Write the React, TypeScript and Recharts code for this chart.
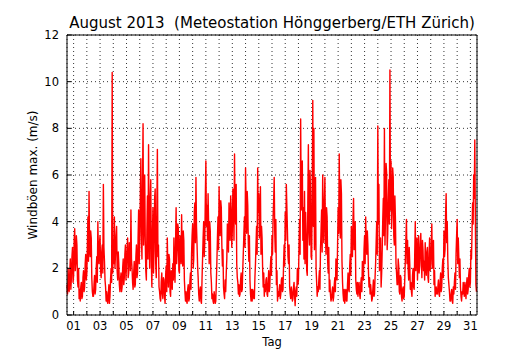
import React from "react";
import { LineChart, Line, XAxis, YAxis, CartesianGrid } from "recharts";

// max gust (m/s), Aug 1..31 2013, one row per day
// even hours: 00, 02, ... 22
const gustsEvenHours: number[][] = [
  [1.3, 2.0, 1.0, 2.4, 1.6, 2.9, 1.7, 3.7, 2.2, 3.0, 1.2, 0.7],
  [0.6, 1.4, 0.8, 1.9, 1.2, 2.6, 1.8, 4.2, 5.3, 2.5, 3.3, 1.0],
  [0.8, 1.7, 1.1, 2.5, 4.0, 2.2, 3.4, 1.6, 3.0, 5.6, 2.3, 1.2],
  [1.0, 0.5, 1.3, 0.8, 2.0, 10.4, 3.2, 4.2, 2.6, 3.8, 1.5, 2.2],
  [1.0, 1.8, 1.2, 2.4, 1.6, 3.0, 2.2, 3.3, 1.8, 2.7, 4.5, 2.0],
  [1.1, 2.3, 1.3, 3.0, 1.8, 4.5, 3.1, 6.7, 2.4, 8.2, 4.0, 3.2],
  [1.5, 5.1, 7.3, 2.0, 5.8, 1.2, 4.6, 2.8, 5.4, 1.6, 7.1, 3.0],
  [1.0, 0.6, 1.8, 0.7, 1.5, 0.5, 2.1, 3.3, 1.2, 2.4, 0.8, 1.6],
  [2.2, 3.3, 1.4, 4.6, 2.8, 3.7, 1.8, 3.0, 4.3, 2.1, 3.2, 1.0],
  [1.0, 0.5, 1.3, 0.7, 1.8, 2.6, 3.9, 2.4, 4.8, 5.9, 3.0, 1.6],
  [0.6, 1.2, 0.5, 2.4, 4.0, 3.1, 6.6, 4.7, 5.2, 2.2, 3.6, 1.4],
  [0.9, 0.5, 0.8, 0.6, 2.3, 4.2, 5.5, 3.4, 4.6, 2.1, 1.2, 0.7],
  [1.0, 2.4, 3.6, 4.8, 3.2, 4.5, 3.6, 5.0, 6.9, 3.9, 2.2, 1.4],
  [1.3, 0.9, 1.8, 1.1, 2.7, 4.2, 6.3, 3.5, 4.7, 2.3, 1.5, 0.6],
  [0.6, 1.0, 0.7, 2.2, 3.8, 6.3, 5.2, 4.0, 2.6, 3.3, 1.2, 0.8],
  [1.0, 1.6, 0.8, 1.9, 1.2, 2.5, 3.4, 4.2, 5.9, 2.7, 1.3, 0.6],
  [0.8, 1.3, 0.9, 1.6, 1.1, 3.0, 4.4, 5.6, 3.6, 2.2, 1.2, 0.7],
  [1.0, 0.7, 1.4, 0.4, 1.2, 2.0, 1.5, 4.1, 8.4, 5.6, 3.2, 2.4],
  [2.2, 3.5, 1.7, 7.3, 3.0, 5.1, 2.4, 9.2, 8.0, 4.1, 2.0, 0.8],
  [1.0, 1.9, 2.8, 4.5, 6.0, 3.1, 5.9, 2.6, 4.2, 1.8, 1.0, 0.9],
  [0.7, 1.2, 0.8, 1.6, 2.4, 1.5, 4.6, 6.9, 3.3, 5.2, 1.4, 0.6],
  [0.5, 1.1, 0.6, 1.8, 1.0, 2.6, 3.8, 2.5, 5.0, 3.1, 1.5, 0.9],
  [0.8, 1.4, 0.7, 1.6, 2.3, 1.5, 3.4, 4.2, 2.6, 3.0, 1.2, 0.9],
  [1.0, 0.7, 1.5, 0.9, 2.2, 4.0, 8.1, 5.6, 2.4, 1.2, 2.8, 5.0],
  [8.0, 4.2, 6.1, 3.5, 5.8, 10.5, 6.6, 4.4, 5.9, 3.0, 4.1, 1.8],
  [1.3, 2.1, 0.9, 1.6, 0.6, 1.2, 0.8, 2.4, 4.1, 3.2, 1.5, 2.2],
  [1.4, 0.8, 2.0, 1.1, 4.0, 2.6, 1.5, 3.4, 2.1, 3.5, 1.6, 2.8],
  [2.3, 3.1, 1.7, 2.9, 1.4, 3.3, 2.2, 3.9, 2.5, 1.3, 0.8, 1.2],
  [0.9, 1.5, 0.8, 1.8, 1.2, 2.4, 3.6, 2.8, 5.2, 4.0, 1.6, 1.0],
  [0.6, 1.1, 0.5, 0.9, 1.8, 2.6, 4.1, 3.3, 1.6, 1.2, 0.6, 0.9],
  [1.0, 1.4, 0.7, 1.6, 1.1, 2.0, 1.4, 2.4, 4.8, 6.0, 7.5, 1.3],
];

// odd hours: 01, 03, ... 23
const gustsOddHours: number[][] = [
  [0.9, 1.2, 1.8, 1.1, 2.5, 1.4, 3.2, 1.9, 3.4, 1.5, 2.0, 1.1],
  [1.2, 0.7, 1.6, 1.0, 2.2, 1.5, 3.0, 2.3, 2.8, 3.6, 1.6, 0.8],
  [1.3, 0.9, 2.0, 1.4, 2.6, 3.1, 1.9, 2.7, 1.8, 2.9, 1.5, 0.6],
  [0.6, 0.9, 0.5, 1.5, 1.4, 1.8, 2.2, 2.0, 3.4, 1.9, 2.7, 1.3],
  [1.5, 1.0, 2.0, 1.3, 2.6, 1.5, 2.8, 1.6, 3.1, 1.9, 2.4, 1.4],
  [1.8, 1.2, 2.5, 1.6, 3.3, 2.2, 5.0, 3.5, 5.5, 3.0, 6.0, 1.9],
  [3.6, 2.4, 3.8, 4.9, 2.3, 3.5, 1.8, 5.0, 2.2, 4.4, 2.5, 1.2],
  [0.7, 1.4, 0.9, 1.6, 0.8, 1.7, 1.0, 1.9, 2.6, 1.0, 1.9, 1.1],
  [1.5, 2.0, 3.1, 2.2, 3.9, 1.9, 3.4, 2.2, 2.6, 3.6, 1.5, 0.6],
  [0.6, 1.1, 0.6, 1.4, 1.1, 3.4, 2.0, 4.4, 3.1, 3.8, 2.1, 0.9],
  [1.0, 0.6, 1.5, 3.3, 2.5, 5.0, 3.8, 3.2, 3.9, 4.0, 1.8, 0.7],
  [0.6, 1.0, 0.5, 1.4, 3.3, 2.8, 3.9, 4.9, 3.0, 2.8, 0.9, 1.5],
  [1.8, 3.9, 2.7, 3.5, 5.1, 2.9, 5.4, 3.2, 4.3, 5.6, 1.6, 0.9],
  [0.8, 1.5, 1.0, 2.0, 3.5, 2.9, 4.8, 5.3, 3.1, 3.4, 0.9, 1.1],
  [1.1, 0.7, 1.6, 3.0, 2.6, 4.4, 3.3, 5.5, 3.8, 2.0, 1.8, 1.3],
  [1.5, 0.9, 1.4, 1.0, 2.0, 1.7, 2.6, 4.9, 3.5, 4.1, 1.9, 1.0],
  [1.1, 0.7, 1.5, 1.0, 2.2, 2.1, 3.2, 4.6, 2.5, 3.0, 0.9, 1.2],
  [0.6, 1.2, 0.8, 1.0, 0.8, 1.3, 2.9, 2.6, 4.5, 6.6, 4.6, 5.3],
  [4.4, 1.9, 4.8, 3.6, 6.2, 2.5, 5.6, 3.8, 2.8, 5.9, 1.4, 1.2],
  [1.5, 1.1, 3.6, 2.7, 4.1, 4.8, 3.4, 4.6, 2.3, 2.9, 1.5, 0.6],
  [1.0, 0.6, 1.3, 1.0, 1.8, 3.0, 3.5, 4.2, 5.8, 2.3, 0.9, 1.1],
  [0.9, 0.6, 1.3, 1.1, 2.1, 1.7, 3.0, 4.1, 2.8, 4.0, 1.1, 1.4],
  [1.2, 0.9, 1.3, 1.0, 1.6, 2.8, 2.2, 3.0, 3.6, 1.9, 1.6, 1.3],
  [0.6, 1.1, 0.8, 1.6, 3.1, 2.6, 3.9, 1.9, 3.3, 1.8, 4.1, 3.4],
  [3.0, 6.5, 2.8, 4.9, 3.9, 4.5, 3.7, 6.3, 3.4, 5.1, 2.2, 1.3],
  [2.4, 1.0, 1.7, 0.8, 1.1, 0.7, 1.6, 3.3, 2.2, 2.0, 2.9, 1.1],
  [1.0, 1.7, 1.2, 2.6, 1.9, 3.3, 2.4, 1.8, 3.0, 2.3, 3.2, 1.9],
  [1.5, 2.2, 2.7, 1.6, 2.6, 1.9, 3.0, 2.0, 3.2, 1.9, 1.1, 0.9],
  [1.2, 0.9, 1.4, 1.0, 2.0, 1.6, 2.5, 4.3, 3.1, 2.4, 1.3, 0.6],
  [0.9, 0.6, 1.2, 1.4, 1.1, 3.4, 2.2, 2.5, 2.4, 0.8, 1.0, 1.4],
  [0.8, 1.1, 1.3, 0.9, 1.7, 1.2, 2.8, 3.6, 3.9, 5.0, 4.2, 1.0],
];

const dayLabels = [
  "01", "02", "03", "04", "05", "06", "07", "08", "09", "10", "11",
  "12", "13", "14", "15", "16", "17", "18", "19", "20", "21", "22",
  "23", "24", "25", "26", "27", "28", "29", "30", "31",
];
const yTicks = [0, 2, 4, 6, 8, 10, 12];

// x = days since Aug 1 00:00, ticks at noon of each day
const data = gustsEvenHours.flatMap((row, d) =>
  row.flatMap((v, i) => [
    { t: d + (i * 2) / 24, gust: v },
    { t: d + (i * 2 + 1) / 24, gust: gustsOddHours[d][i] },
  ])
);
const dayTicks = dayLabels.map((_, i) => i + 0.5);
const fmtDay = (v: number) => {
  const i = Math.round(v - 0.5);
  return i % 2 === 0 ? dayLabels[i] : "";
};

const font = "DejaVu Sans, sans-serif";
const tickStyle = { fontSize: 11.5, fill: "#000", fontFamily: font };

export default function App() {
  return (
    <div style={{ position: "absolute", left: 0, top: 0, width: 530, height: 350, background: "#fff" }}>
      <LineChart
        width={530}
        height={350}
        data={data}
        margin={{ top: 34, right: 52, left: 0, bottom: 0 }}
      >
        <CartesianGrid stroke="#000" strokeDasharray="1 3" strokeWidth={0.8} />
        <XAxis
          dataKey="t"
          type="number"
          domain={[0, 31]}
          ticks={dayTicks}
          tickFormatter={fmtDay}
          interval={0}
          height={35}
          tickSize={-4}
          tickMargin={11}
          tick={tickStyle}
          axisLine={{ stroke: "#000" }}
          tickLine={{ stroke: "#000" }}
        />
        <XAxis
          xAxisId="top"
          orientation="top"
          dataKey="t"
          type="number"
          domain={[0, 31]}
          ticks={dayTicks}
          tick={false}
          height={1}
          tickSize={-4}
          axisLine={{ stroke: "#000" }}
          tickLine={{ stroke: "#000" }}
        />
        <YAxis
          type="number"
          domain={[0, 12]}
          ticks={yTicks}
          interval={0}
          width={67}
          tickSize={-4}
          tickMargin={12}
          tick={tickStyle}
          axisLine={{ stroke: "#000" }}
          tickLine={{ stroke: "#000" }}
        />
        <YAxis
          yAxisId="right"
          orientation="right"
          type="number"
          domain={[0, 12]}
          ticks={yTicks}
          tick={false}
          width={1}
          tickSize={-4}
          axisLine={{ stroke: "#000" }}
          tickLine={{ stroke: "#000" }}
        />
        <Line
          dataKey="gust"
          stroke="#ff0000"
          strokeWidth={1.4}
          strokeLinejoin="round"
          dot={false}
          isAnimationActive={false}
        />
      </LineChart>
      <svg
        width={530}
        height={350}
        style={{ position: "absolute", left: 0, top: 0, pointerEvents: "none" }}
      >
        <text x={272} y={28} textAnchor="middle" fontSize={15} fontFamily={font} style={{ whiteSpace: "pre" }}>
          August 2013  (Meteostation Hönggerberg/ETH Zürich)
        </text>
        <text x={272} y={346} textAnchor="middle" fontSize={11.5} fontFamily={font}>
          Tag
        </text>
        <text
          x={0}
          y={0}
          transform="translate(37,175) rotate(-90)"
          textAnchor="middle"
          fontSize={12}
          fontFamily={font}
        >
          Windböen max. (m/s)
        </text>
      </svg>
    </div>
  );
}
